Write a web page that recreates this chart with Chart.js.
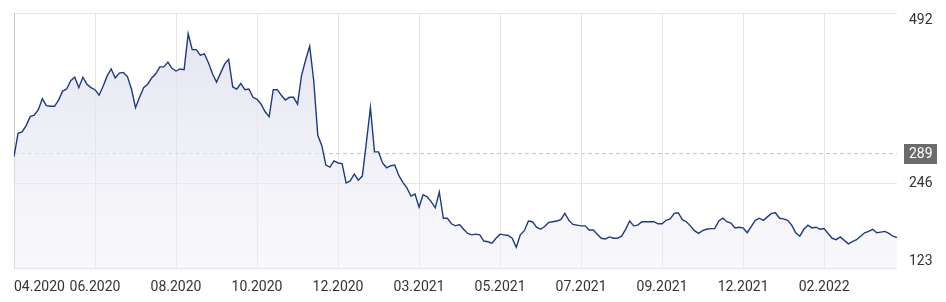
<!DOCTYPE html>
<html>
<head>
<meta charset="utf-8">
<script src="https://cdn.jsdelivr.net/npm/chart.js@4"></script>
<style>
  html, body { margin: 0; padding: 0; background: #fff; }
  #wrap { width: 946px; height: 302px; }
</style>
</head>
<body>
<div id="wrap"><canvas id="price-chart" width="946" height="302"></canvas></div>
<script>
/* -----------------------------------------------
   Data (daily closes)
------------------------------------------------ */
const prices = [
  284, 318, 320, 329, 342, 344, 352, 368, 358, 357,
  357, 366, 379, 382, 394, 399, 384, 399, 389, 384,
  381, 373, 386, 401, 411, 398, 405, 406, 400, 382,
  355, 370, 384, 389, 398, 404, 414, 414, 421, 412,
  408, 411, 410, 462, 439, 439, 431, 433, 420, 404,
  392, 405, 418, 425, 385, 382, 390, 381, 382, 370,
  367, 360, 349, 342, 381, 381, 373, 366, 370, 370,
  360, 402, 424, 444, 394, 315, 300, 272, 269, 278,
  275, 274, 246, 249, 259, 250, 256, 305, 355, 291,
  291, 275, 268, 271, 272, 257, 247, 239, 227, 230,
  211, 229, 226, 219, 210, 233, 195, 195, 187, 184,
  186, 179, 173, 171, 172, 171, 162, 161, 159, 166,
  172, 171, 170, 166, 153, 171, 177, 191, 190, 182,
  179, 183, 189, 190, 191, 193, 202, 192, 186, 185,
  184, 184, 178, 178, 172, 166, 165, 168, 166, 166,
  169, 179, 191, 184, 185, 190, 190, 190, 190, 187,
  187, 192, 194, 202, 203, 193, 190, 184, 177, 173,
  177, 179, 180, 180, 191, 195, 190, 188, 181, 182,
  181, 174, 183, 192, 195, 192, 197, 202, 203, 195,
  194, 192, 185, 174, 169, 179, 185, 181, 182, 179,
  180, 173, 166, 164, 168, 163, 158, 161, 164, 169,
  174, 176, 179, 174, 175, 176, 173, 169, 167
];

// x ticks sit on every 20th trading day
const tickIndex = [0, 20, 40, 60, 80, 100, 120, 140, 160, 180, 200];
const tickLabels = [
  "04.2020", "06.2020", "08.2020", "10.2020", "12.2020", "03.2021",
  "05.2021", "07.2021", "09.2021", "12.2021", "02.2022"
];

const yTicks = [123, 246, 492];
const refPrice = 289;

const FONT = "14px Roboto, 'Noto Sans', sans-serif";

/* -----------------------------------------------
   Axis labels, reference line and price tag
------------------------------------------------ */
const labelPlugin = {
  id: "labels",
  beforeDatasetsDraw(chart) {
    const { ctx, chartArea, scales } = chart;
    const y = scales.y.getPixelForValue(refPrice);
    ctx.save();
    ctx.strokeStyle = "#c6c6c6";
    ctx.lineWidth = 1;
    ctx.setLineDash([4, 3]);
    ctx.beginPath();
    ctx.moveTo(chartArea.left, Math.round(y) + 0.5);
    ctx.lineTo(chartArea.right, Math.round(y) + 0.5);
    ctx.stroke();
    ctx.restore();
  },
  afterDraw(chart) {
    const { ctx, chartArea, scales } = chart;
    ctx.save();
    ctx.font = FONT;
    ctx.textBaseline = "middle";

    // y labels on the right, kept inside the plot height
    ctx.fillStyle = "#333";
    ctx.textAlign = "left";
    yTicks.forEach(v => {
      let y = scales.y.getPixelForValue(v);
      y = Math.min(Math.max(y, chartArea.top + 7), chartArea.bottom - 7);
      ctx.fillText(String(v), chartArea.right + 12, y);
    });

    // current price tag
    const ry = scales.y.getPixelForValue(refPrice);
    ctx.fillStyle = "#6b6b6b";
    ctx.fillRect(chartArea.right + 7, Math.round(ry) - 9, 33, 20);
    ctx.fillStyle = "#fff";
    ctx.fillText(String(refPrice), chartArea.right + 12, ry + 1);

    // x labels, first one pinned to the left edge
    ctx.fillStyle = "#333";
    tickIndex.forEach((idx, k) => {
      const x = scales.x.getPixelForValue(idx);
      const w = ctx.measureText(tickLabels[k]).width;
      const left = Math.max(x - w / 2, chartArea.left);
      ctx.textAlign = "left";
      ctx.fillText(tickLabels[k], left, chartArea.bottom + 19);
    });
    ctx.restore();
  }
};

/* -----------------------------------------------
   Chart
------------------------------------------------ */
const canvas = document.getElementById("price-chart");

new Chart(canvas, {
  type: "line",
  data: {
    datasets: [
      {
        data: prices.map((p, i) => ({ x: i, y: p })),
        borderColor: "#1f3b7c",
        borderWidth: 1.4,
        pointRadius: 0,
        tension: 0,
        fill: "start",
        backgroundColor: ctx => {
          const area = ctx.chart.chartArea;
          if (!area) return "rgba(225,225,240,0.6)";
          const g = ctx.chart.ctx.createLinearGradient(0, area.top, 0, area.bottom);
          g.addColorStop(0, "rgba(218,218,236,0.75)");
          g.addColorStop(1, "rgba(240,240,247,0.45)");
          return g;
        }
      }
    ]
  },
  options: {
    responsive: false,
    animation: false,
    layout: { padding: { left: 14, right: 49, top: 13, bottom: 34 } },
    plugins: {
      legend: { display: false },
      tooltip: { enabled: false }
    },
    scales: {
      x: {
        type: "linear",
        min: 0,
        max: prices.length - 1,
        afterBuildTicks: axis => {
          axis.ticks = tickIndex.map(v => ({ value: v }));
        },
        ticks: { display: false },
        grid: { color: "#e6e6e6", drawTicks: false },
        border: { display: false }
      },
      y: {
        min: 123,
        max: 492,
        afterBuildTicks: axis => {
          axis.ticks = yTicks.map(v => ({ value: v }));
        },
        ticks: { display: false },
        grid: { color: "#e6e6e6", drawTicks: false },
        border: { display: true, color: "#c8c8c8" }
      }
    }
  },
  plugins: [labelPlugin]
});
</script>
</body>
</html>
